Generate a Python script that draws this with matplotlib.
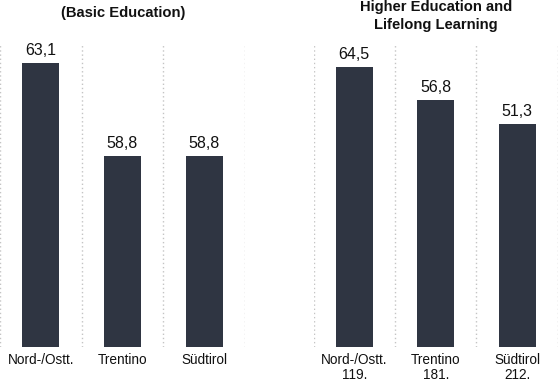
import matplotlib
matplotlib.use("Agg")
import matplotlib.pyplot as plt

regions = ["Nord-/Ostt.", "Trentino", "Südtirol"]
basic_values = [63.1, 58.8, 58.8]
higher_values = [64.5, 56.8, 51.3]
higher_counts = ["119.", "181.", "212."]
basic_title = "(Basic Education)"
higher_title = "Higher Education and\nLifelong Learning"

BAR_COLOR = "#2f3542"
GRID_COLOR = "#c4c4c4"

plt.rcParams["font.family"] = ["Liberation Sans", "DejaVu Sans"]

W, H = 559, 382
fig = plt.figure(figsize=(W / 100, H / 100), dpi=100)


def px_axes(left, right, top=43, bottom=347):
    return fig.add_axes([left / W, (H - bottom) / H, (right - left) / W, (bottom - top) / H])


def draw_panel(ax, values, labels, ylim):
    x = list(range(len(values)))
    ax.bar(x, [v - ylim[0] for v in values], bottom=ylim[0], width=0.45,
           color=BAR_COLOR, zorder=2)
    ax.set_xlim(-0.5, len(values) - 0.5)
    ax.set_ylim(*ylim)
    for xi, v in zip(x, values):
        ax.annotate(f"{v:.1f}".replace(".", ","), (xi, v), xytext=(0, 3.5),
                    textcoords="offset points", ha="center", va="bottom",
                    fontsize=11.5, color="#111111")
    ax.set_xticks(x)
    ax.set_xticklabels(labels, fontsize=9.8, linespacing=1.15, color="#111111")
    ax.set_xticks([i - 0.5 for i in range(len(values) + 1)], minor=True)
    ax.tick_params(axis="x", which="both", length=0, pad=4)
    ax.set_yticks([])
    ax.grid(which="minor", axis="x", color=GRID_COLOR, linestyle=(0, (1, 2)),
            linewidth=1, zorder=0)
    for spine in ax.spines.values():
        spine.set_visible(False)


ax_left = px_axes(0, 245)
draw_panel(ax_left, basic_values, regions, (50, 64))

ax_right = px_axes(313.5, 558)
draw_panel(ax_right, higher_values,
           [f"{r}\n{c}" for r, c in zip(regions, higher_counts)], (0, 70))

fig.text(123 / W, 1 - 13 / H, basic_title, ha="center", va="center",
         fontsize=10.6, fontweight="bold", color="#111111")
fig.text(436 / W, 1 - 16 / H, higher_title, ha="center", va="center",
         fontsize=10.6, fontweight="bold", color="#111111", linespacing=1.3)

fig.savefig("out.png", dpi=100)
